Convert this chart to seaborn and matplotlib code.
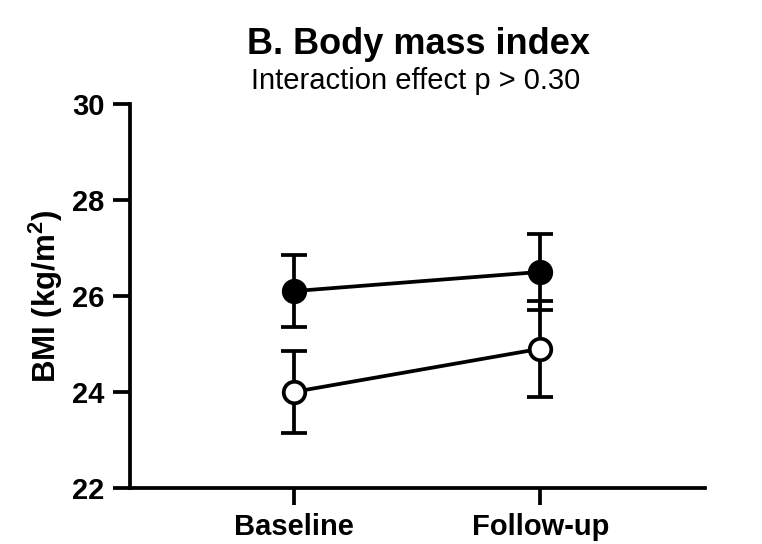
import matplotlib
matplotlib.use("Agg")
import matplotlib.pyplot as plt
import seaborn as sns
import pandas as pd

# Time points and group summaries (mean with lower/upper error limits)
timepoints = ["Baseline", "Follow-up"]
group_filled_mean = [26.1, 26.5]
group_filled_low = [25.35, 25.7]
group_filled_high = [26.85, 27.3]
group_open_mean = [24.0, 24.9]
group_open_low = [23.15, 23.9]
group_open_high = [24.85, 25.9]
y_ticks = [22, 24, 26, 28, 30]

sns.set_theme(style="ticks")
plt.rcParams["font.family"] = ["Liberation Sans", "DejaVu Sans"]
plt.rcParams["text.color"] = "black"
plt.rcParams["axes.labelcolor"] = "black"
plt.rcParams["xtick.color"] = "black"
plt.rcParams["ytick.color"] = "black"
plt.rcParams["mathtext.fontset"] = "custom"
plt.rcParams["mathtext.bf"] = "Liberation Sans:bold"
plt.rcParams["mathtext.rm"] = "Liberation Sans"

fig = plt.figure(figsize=(7.62, 5.44), dpi=100)
ax = fig.add_axes([0.170, 0.103, 0.755, 0.706])

df = pd.DataFrame({
    "time": timepoints * 2,
    "x": [0, 1] * 2,
    "bmi": group_filled_mean + group_open_mean,
    "low": group_filled_low + group_open_low,
    "high": group_filled_high + group_open_high,
    "group": ["filled"] * 2 + ["open"] * 2,
})

lw = 2.7
for grp, face in [("open", "white"), ("filled", "black")]:
    sub = df[df["group"] == grp]
    ax.errorbar(sub["x"], sub["bmi"],
                yerr=[sub["bmi"] - sub["low"], sub["high"] - sub["bmi"]],
                fmt="none", ecolor="black", elinewidth=lw, capsize=9.5,
                capthick=lw, zorder=2)
    sns.lineplot(data=sub, x="x", y="bmi", ax=ax, color="black", linewidth=lw,
                 marker="o", markersize=15.5, markerfacecolor=face,
                 markeredgecolor="black", markeredgewidth=lw, zorder=3,
                 legend=False)

ax.set_xlim(-0.665, 1.667)
ax.set_ylim(22, 30)
ax.set_yticks(y_ticks)
ax.set_xticks([0, 1])
ax.set_xticklabels(timepoints)
ax.set_xlabel("")
ax.set_ylabel("BMI (kg/m$\\mathbf{^2}$)", fontsize=22.5, fontweight="bold")
ax.yaxis.set_label_coords(-0.112, 0.5)

for s in ["top", "right"]:
    ax.spines[s].set_visible(False)
for s in ["left", "bottom"]:
    ax.spines[s].set_linewidth(lw)
    ax.spines[s].set_color("black")
ax.tick_params(axis="both", width=lw, length=12, color="black",
               labelsize=21, pad=6)
ax.tick_params(axis="x", pad=6)
for lab in ax.get_xticklabels() + ax.get_yticklabels():
    lab.set_fontweight("bold")

fig.text(0.549, 0.918, "B. Body mass index", ha="center", va="center",
         fontsize=26, fontweight="bold")
fig.text(0.545, 0.852, "Interaction effect p > 0.30", ha="center",
         va="center", fontsize=21)

fig.savefig("out.png", dpi=100)
